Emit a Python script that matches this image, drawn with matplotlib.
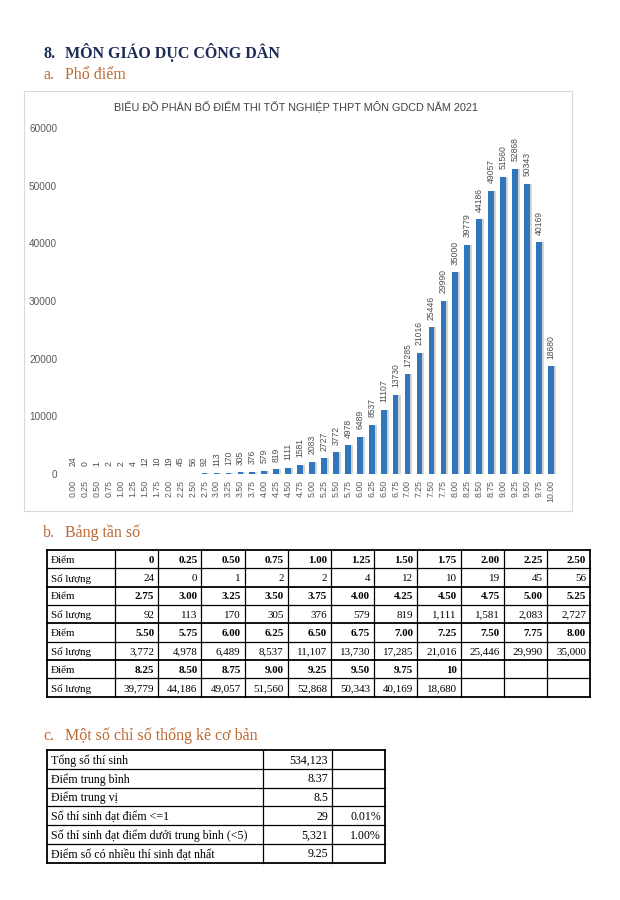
import numpy as np
import matplotlib.pyplot as plt
from matplotlib.patches import Rectangle

# ---------------------------------
# Data
# ---------------------------------
score_labels = ["0.00", "0.25", "0.50", "0.75", "1.00", "1.25", "1.50", "1.75",
                "2.00", "2.25", "2.50", "2.75", "3.00", "3.25", "3.50", "3.75",
                "4.00", "4.25", "4.50", "4.75", "5.00", "5.25", "5.50", "5.75",
                "6.00", "6.25", "6.50", "6.75", "7.00", "7.25", "7.50", "7.75",
                "8.00", "8.25", "8.50", "8.75", "9.00", "9.25", "9.50", "9.75",
                "10.00"]
counts = [24, 0, 1, 2, 2, 4, 12, 10, 19, 45, 56,
          92, 113, 170, 305, 376, 579, 819, 1111, 1581, 2083, 2727,
          3772, 4978, 6489, 8537, 11107, 13730, 17285, 21016, 25446, 29990, 35000,
          39779, 44186, 49057, 51560, 52868, 50343, 40169, 18680]
table_scores = ["0"] + score_labels[1:-1] + ["10"]

y_ticks = [0, 10000, 20000, 30000, 40000, 50000, 60000]

stat_labels = ["Tổng số thí sinh", "Điểm trung bình", "Điểm trung vị",
               "Số thí sinh đạt điểm <=1",
               "Số thí sinh đạt điểm dưới trung bình (<5)",
               "Điểm số có nhiều thí sinh đạt nhất"]
stat_values = ["534,123", "8.37", "8.5", "29", "5,321", "9.25"]
stat_percents = ["", "", "", "0.01%", "1.00%", ""]

chart_title = "BIỂU ĐỒ PHÂN BỐ ĐIỂM THI TỐT NGHIỆP THPT MÔN GDCD NĂM 2021"

# ---------------------------------
# Page setup (pixel coordinates)
# ---------------------------------
W, H = 620, 900
SERIF = "Liberation Serif"
SANS = "Liberation Sans"
NAVY = "#1d2b57"
ORANGE = "#bd6a32"
GREY = "#595959"

fig = plt.figure(figsize=(6.2, 9), dpi=100)
page = fig.add_axes([0, 0, 1, 1])
page.set_xlim(0, W)
page.set_ylim(H, 0)
page.axis("off")

# headings
page.text(43, 58, "8.", family=SERIF, fontweight="bold", fontsize=11.5,
          color=NAVY, va="baseline")
page.text(65, 58, "MÔN GIÁO DỤC CÔNG DÂN", family=SERIF, fontweight="bold",
          fontsize=11.5, color=NAVY, va="baseline")

def sub_heading(y, letter, text):
    page.text(43, y, letter, family=SERIF, fontsize=11.5, color=ORANGE, va="baseline")
    page.text(65, y, text, family=SERIF, fontsize=11.5, color=ORANGE, va="baseline")

sub_heading(79, "a.", "Phổ điểm")
sub_heading(537, "b.", "Bảng tần số")
sub_heading(740, "c.", "Một số chỉ số thống kê cơ bản")

# ---------------------------------
# Bar chart
# ---------------------------------
page.add_patch(Rectangle((24, 91), 548, 420, fill=False, ec="#d9d9d9", lw=0.8))
page.text(296, 106, chart_title, family=SANS, fontsize=7.8, color="#404040",
          ha="center", va="center")

ax = fig.add_axes([67.3 / W, 1 - 474 / H, 489.5 / W, 346 / H])
ax.patch.set_alpha(0)
x = np.arange(len(counts))
ax.bar(x + 0.17, counts, width=0.48, color="#b0b0b0", alpha=0.55, zorder=1)
ax.bar(x, counts, width=0.48, color="#2f76bd", zorder=2)
for xi, c in zip(x, counts):
    ax.annotate(str(c), (xi, c), xytext=(0, 5.5), textcoords="offset points",
                rotation=90, ha="center", va="bottom", fontsize=6.2,
                family=SANS, color="#4d4d4d")
ax.axhline(0, color="#d9d9d9", lw=0.8, zorder=0)
ax.set_xlim(-0.5, len(counts) - 0.5)
ax.set_ylim(0, 60000)
ax.set_yticks(y_ticks)
ax.set_yticklabels([str(t) for t in y_ticks], family=SANS, fontsize=7.2, color=GREY)
ax.set_xticks(x)
ax.set_xticklabels(score_labels, rotation=90, family=SANS, fontsize=6.3, color=GREY)
ax.tick_params(axis="y", length=0, pad=7.3)
ax.tick_params(axis="x", length=0, pad=4.3)
for s in ax.spines.values():
    s.set_visible(False)

# ---------------------------------
# Frequency table
# ---------------------------------
t_left, t_first, t_col, t_top, t_row = 47, 68, 43.2, 550, 18.35
n_cols = 11
n_rows = 8
t_right = t_left + t_first + n_cols * t_col
t_bottom = t_top + n_rows * t_row
FS_T = 7.9

for r in range(n_rows + 1):
    y = t_top + r * t_row
    lw = 1.3 if r % 2 == 0 else 0.9
    page.plot([t_left, t_right], [y, y], color="black", lw=lw, solid_capstyle="projecting")
col_edges = [t_left] + [t_left + t_first + i * t_col for i in range(n_cols + 1)]
for i, xe in enumerate(col_edges):
    lw = 1.3 if i in (0, len(col_edges) - 1) else 0.9
    page.plot([xe, xe], [t_top, t_bottom], color="black", lw=lw, solid_capstyle="projecting")

for g in range(4):
    scores_g = table_scores[g * n_cols:(g + 1) * n_cols]
    counts_g = counts[g * n_cols:(g + 1) * n_cols]
    y1 = t_top + (2 * g + 0.5) * t_row + 1
    y2 = t_top + (2 * g + 1.5) * t_row + 1
    page.text(t_left + 4, y1, "Điểm", family=SERIF, fontsize=FS_T, va="center")
    page.text(t_left + 4, y2, "Số lượng", family=SERIF, fontsize=FS_T, va="center")
    for j, (s, c) in enumerate(zip(scores_g, counts_g)):
        xr = t_left + t_first + (j + 1) * t_col - 4
        page.text(xr, y1, s, family=SERIF, fontsize=FS_T, fontweight="bold",
                  ha="right", va="center")
        page.text(xr, y2, f"{c:,}", family=SERIF, fontsize=FS_T,
                  ha="right", va="center")

# ---------------------------------
# Basic statistics table
# ---------------------------------
s_edges = [47, 263, 332, 385]
s_top, s_row = 750, 18.8
s_bottom = s_top + len(stat_labels) * s_row
FS_S = 8.6
for r in range(len(stat_labels) + 1):
    y = s_top + r * s_row
    lw = 1.3 if r in (0, len(stat_labels)) else 0.9
    page.plot([s_edges[0], s_edges[-1]], [y, y], color="black", lw=lw,
              solid_capstyle="projecting")
for i, xe in enumerate(s_edges):
    lw = 1.3 if i in (0, len(s_edges) - 1) else 0.9
    page.plot([xe, xe], [s_top, s_bottom], color="black", lw=lw,
              solid_capstyle="projecting")
for r, (lab, val, pct) in enumerate(zip(stat_labels, stat_values, stat_percents)):
    yc = s_top + (r + 0.5) * s_row + 1
    page.text(s_edges[0] + 4, yc, lab, family=SERIF, fontsize=FS_S, va="center")
    page.text(s_edges[2] - 4, yc, val, family=SERIF, fontsize=FS_S, ha="right", va="center")
    if pct:
        page.text(s_edges[3] - 4, yc, pct, family=SERIF, fontsize=FS_S, ha="right", va="center")

fig.savefig("out.png", dpi=100)
